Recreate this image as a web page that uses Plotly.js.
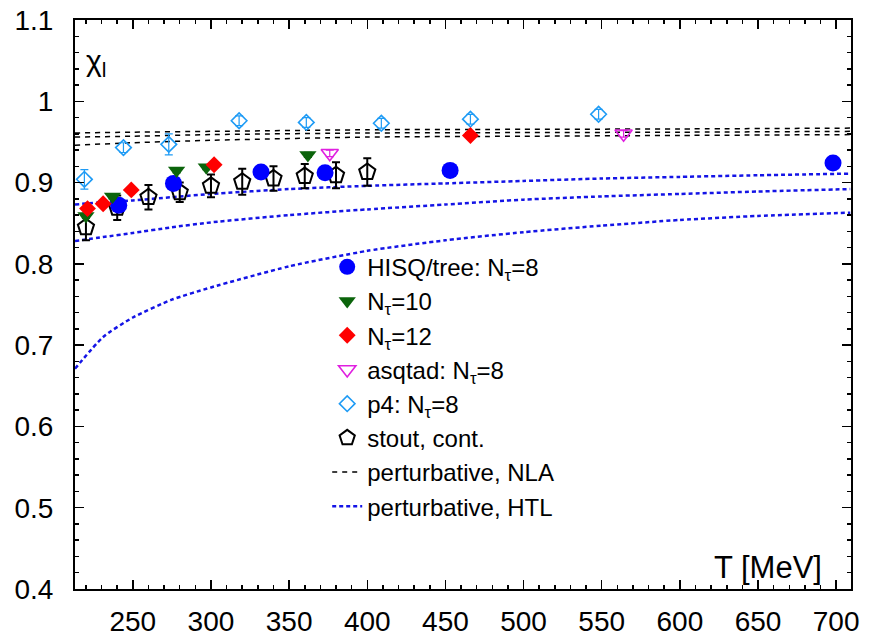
<!DOCTYPE html>
<html>
<head>
<meta charset="utf-8">
<script src="https://cdn.plot.ly/plotly-3.0.1.min.js"></script>
<style>html,body{margin:0;padding:0;background:#fff;}#chart{width:869px;height:638px;}</style>
</head>
<body>
<div id="chart"></div>
<script>
// ---- data ----
const hisqT = [241, 276, 332, 373, 453, 698];
const hisqV = [0.872, 0.899, 0.913, 0.912, 0.915, 0.924];
const hisqE = [0.003, 0.003, 0.003, 0.003, 0.003, 0.003];

const nt10T = [220, 237, 278, 297, 362];
const nt10V = [0.859, 0.883, 0.915, 0.919, 0.934];
const nt10E = [0.003, 0.003, 0.003, 0.003, 0.003];

const nt12T = [221, 231, 249, 302, 466];
const nt12V = [0.868, 0.874, 0.891, 0.922, 0.958];
const nt12E = [0.003, 0.003, 0.003, 0.003, 0.003];

const asqT = [376, 564];
const asqV = [0.936, 0.960];
const asqE = [0.004, 0.004];

const p4T = [219, 244, 273, 318, 361, 409, 466, 548];
const p4V = [0.904, 0.943, 0.947, 0.976, 0.974, 0.973, 0.978, 0.984];
const p4E = [0.012, 0.006, 0.013, 0.006, 0.006, 0.006, 0.006, 0.006];

const stoutT = [220, 240, 260, 280, 300, 320, 340, 360, 380, 400];
const stoutV = [0.845, 0.869, 0.882, 0.888, 0.896, 0.901, 0.905, 0.908, 0.909, 0.913];
const stoutE = [0.016, 0.015, 0.015, 0.012, 0.014, 0.016, 0.015, 0.015, 0.016, 0.017];

const nlaT = [213, 250, 300, 400, 500, 600, 709];
const nlaUpper = [0.961, 0.962, 0.963, 0.965, 0.9655, 0.966, 0.967];
const nlaMiddle = [0.956, 0.957, 0.959, 0.961, 0.9615, 0.962, 0.963];
const nlaLower = [0.946, 0.949, 0.952, 0.956, 0.957, 0.958, 0.959];

const htlT = [213, 231, 250, 275, 300, 350, 400, 450, 500, 550, 600, 650, 709];
const htlUpper = [0.873, 0.876, 0.878, 0.882, 0.886, 0.892, 0.896, 0.899, 0.902, 0.905, 0.907, 0.909, 0.911];
const htlMiddle = [0.828, 0.833, 0.838, 0.845, 0.851, 0.860, 0.867, 0.873, 0.879, 0.883, 0.886, 0.889, 0.892];
const htlLower = [0.671, 0.710, 0.734, 0.756, 0.771, 0.797, 0.816, 0.829, 0.839, 0.847, 0.854, 0.859, 0.863];

const xTickVals = [250, 300, 350, 400, 450, 500, 550, 600, 650, 700];
const xTickText = ['250', '300', '350', '400', '450', '500', '550', '600', '650', '700'];
const yTickVals = [0.4, 0.5, 0.6, 0.7, 0.8, 0.9, 1.0, 1.1];
const yTickText = ['0.4', '0.5', '0.6', '0.7', '0.8', '0.9', '1', '1.1'];

const legendNames = [
  'HISQ/tree: N<sub>τ</sub>=8', 'N<sub>τ</sub>=10', 'N<sub>τ</sub>=12',
  'asqtad: N<sub>τ</sub>=8', 'p4: N<sub>τ</sub>=8', 'stout, cont.',
  'perturbative, NLA', 'perturbative, HTL'
];

// ---- traces ----
const FONT = '"Liberation Sans", Arial, Helvetica, sans-serif';
function lineTrace(x, y, name, color, dash, width, show, group, rank) {
  return {x: x, y: y, type: 'scatter', mode: 'lines', name: name,
    line: {color: color, dash: dash, width: width, shape: 'spline', smoothing: 0.6},
    showlegend: show, legendgroup: group, legendrank: rank, hoverinfo: 'skip'};
}
function ptTrace(x, y, e, name, color, symbol, size, lw, rank, ethick) {
  return {x: x, y: y, type: 'scatter', mode: 'markers', name: name,
    error_y: {type: 'data', array: e, visible: true, color: color, thickness: ethick || 1.5, width: 4},
    marker: {color: color, symbol: symbol, size: size, line: {color: color, width: lw}},
    legendrank: rank, cliponaxis: false};
}
const NLA = '#000000', HTL = '#1414e6';
const data = [
  lineTrace(htlT, htlLower, legendNames[7], HTL, '4px,3px', 2.5, false, 'htl', 8),
  lineTrace(htlT, htlMiddle, legendNames[7], HTL, '4px,3px', 2.5, false, 'htl', 8),
  lineTrace(htlT, htlUpper, legendNames[7], HTL, '4px,3px', 2.5, true, 'htl', 8),
  lineTrace(nlaT, nlaUpper, legendNames[6], NLA, '5px,5px', 1.5, true, 'nla', 7),
  lineTrace(nlaT, nlaMiddle, legendNames[6], NLA, '5px,5px', 1.5, false, 'nla', 7),
  lineTrace(nlaT, nlaLower, legendNames[6], NLA, '5px,5px', 1.5, false, 'nla', 7),
  ptTrace(p4T, p4V, p4E, legendNames[4], '#1e9bf5', 'diamond-open', 12, 1.6, 5, 1.2),
  ptTrace(stoutT, stoutV, stoutE, legendNames[5], '#000000', 'pentagon-open', 17, 2, 6, 2),
  ptTrace(asqT, asqV, asqE, legendNames[3], '#e020e0', 'triangle-down-open', 15, 1.6, 4, 1.2),
  ptTrace(hisqT, hisqV, hisqE, legendNames[0], '#0000ff', 'circle', 17, 0, 1),
  ptTrace(nt10T, nt10V, nt10E, legendNames[1], '#0b640b', 'triangle-down', 15, 0, 2),
  ptTrace(nt12T, nt12V, nt12E, legendNames[2], '#ff0000', 'diamond', 13, 0, 3)
];

const axisCommon = {
  showline: true, linecolor: '#000', linewidth: 2, mirror: 'allticks',
  ticks: 'inside', ticklen: 9, tickwidth: 1.5, tickcolor: '#000',
  showgrid: false, zeroline: false, tickmode: 'array'
};
const layout = {
  width: 869, height: 638,
  margin: {l: 75, r: 18, t: 20, b: 49, pad: 0},
  paper_bgcolor: '#fff', plot_bgcolor: '#fff',
  font: {family: FONT, color: '#000'},
  xaxis: Object.assign({}, axisCommon, {
    range: [213, 709.5], tickvals: xTickVals, ticktext: xTickText,
    tickfont: {size: 28, family: FONT}, ticklabelstandoff: 6,
    minor: {dtick: 10, tick0: 200, ticks: 'inside', ticklen: 4, tickwidth: 1.5, tickcolor: '#000', showgrid: false}
  }),
  yaxis: Object.assign({}, axisCommon, {
    range: [0.4, 1.1], tickvals: yTickVals, ticktext: yTickText,
    tickfont: {size: 28, family: FONT}, ticklabelstandoff: 14,
    minor: {dtick: 0.02, tick0: 0.4, ticks: 'inside', ticklen: 4, tickwidth: 1.5, tickcolor: '#000', showgrid: false}
  }),
  showlegend: true,
  legend: {
    x: 0.325, y: 0.605, xanchor: 'left', yanchor: 'top',
    bgcolor: 'rgba(255,255,255,0)', borderwidth: 0,
    font: {size: 24, family: FONT, color: '#000'},
    tracegroupgap: 0, itemwidth: 30, traceorder: 'normal'
  },
  annotations: [
    {text: 'χ<sub>l</sub>', xref: 'paper', yref: 'paper', x: 0.012, y: 0.925,
     xanchor: 'left', yanchor: 'middle', showarrow: false, font: {size: 30, family: FONT}},
    {text: 'T [MeV]', xref: 'paper', yref: 'paper', x: 0.965, y: 0.037,
     xanchor: 'right', yanchor: 'middle', showarrow: false, font: {size: 31, family: FONT}}
  ]
};
Plotly.newPlot('chart', data, layout, {displayModeBar: false, staticPlot: true});
</script>
</body>
</html>
